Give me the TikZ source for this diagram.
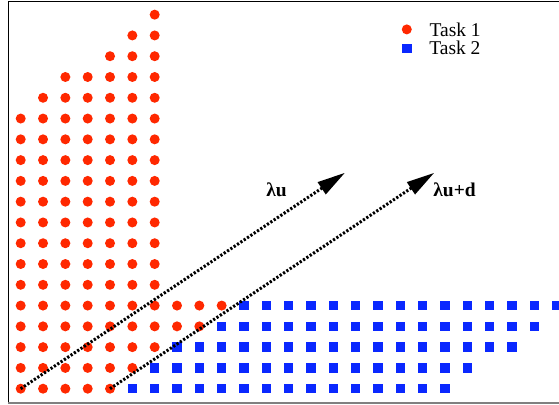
\documentclass[tikz,border=0pt]{standalone}
\usepackage{fontspec}
\setmainfont{Liberation Serif}
\usetikzlibrary{arrows.meta, positioning}
\definecolor{taskred}{RGB}{255,40,0}
\definecolor{taskblue}{RGB}{10,40,255}

\begin{document}
\begin{tikzpicture}[x=22.33pt, y=20.78pt,
		reddot/.style={circle, fill=taskred, inner sep=0pt, minimum size=10pt},
		bluesq/.style={rectangle, fill=taskblue, inner sep=0pt, minimum size=9.5pt},
		shiftvec/.style={dash pattern=on 2.2pt off 1.8pt, line width=3pt, -{Triangle[length=28pt, width=14pt]}},
		txt/.style={font=\fontsize{19.5}{22}\selectfont}]
	\useasboundingbox (-20.7pt,-15.3pt) rectangle (538.3pt,388.7pt);
	% frame
	\draw[line width=1pt] (-12.7pt,-13.8pt) -- (-12.7pt,386.7pt) -- (538.3pt,386.7pt);
	\draw[gray, line width=2pt] (-12.7pt,-13.8pt) -- (538.3pt,-13.8pt);
	% task 1
	\foreach \c/\lo/\hi in {0/0/13,1/0/14,2/0/15,3/0/15,4/0/16,5/1/17,6/2/18,7/3/4,8/3/4,9/4/4}
		\foreach \r in {\lo,...,\hi}
			\node[reddot] (r-\c-\r) at (\c,\r) {};
	% task 2
	\foreach \r/\lo/\hi in {0/5/19,1/6/20,2/7/22,3/9/23,4/10/24}
		\foreach \c in {\lo,...,\hi}
			\node[bluesq] (b-\c-\r) at (\c,\r) {};
	% legend
	\node[reddot] (key1) at (17.29,17.29) {};
	\node[bluesq] (key2) at (17.29,16.38) {};
	\node[txt, right=14pt of key1] (key1txt) {Task 1};
	\node[txt, right=14pt of key2] (key2txt) {Task 2};
	% shift vectors
	\coordinate (tipa) at (14.52,10.39);
	\coordinate (tipb) at (18.52,10.39);
	\draw[shiftvec] (r-0-0.center) -- (tipa);
	\draw[shiftvec] (r-4-0.center) -- (tipb);
	\node[txt, font=\fontsize{19.5}{22}\selectfont\bfseries] (laba) at (11.46,9.55) {λu};
	\node[txt, font=\fontsize{19.5}{22}\selectfont\bfseries] (labb) at (19.43,9.55) {λu+d};
\end{tikzpicture}
\end{document}
